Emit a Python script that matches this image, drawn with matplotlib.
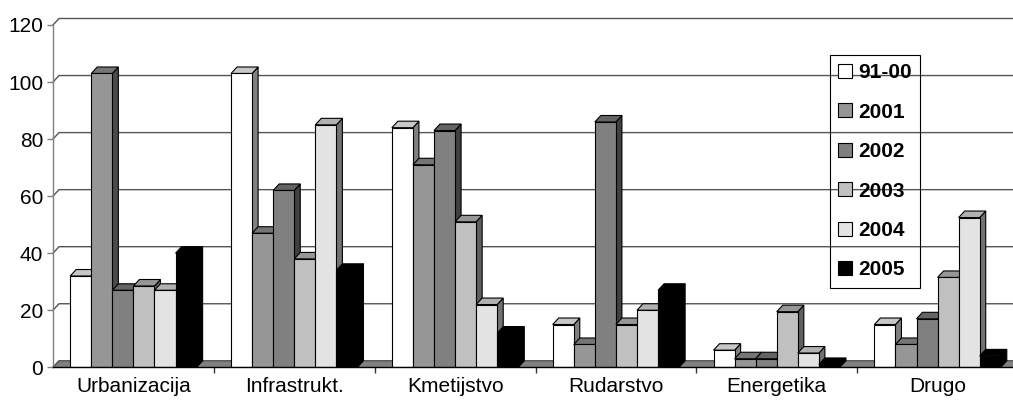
"""Excel-style 3D clustered column chart, redrawn with matplotlib patches."""

import numpy as np
import matplotlib
matplotlib.use("Agg")
import matplotlib.pyplot as plt  # noqa: E402
from matplotlib.patches import Polygon, Patch  # noqa: E402

plt.rcParams["font.family"] = ["Liberation Sans", "DejaVu Sans"]

# === DATA ===
CATEGORIES = ["Urbanizacija", "Infrastrukt.", "Kmetijstvo", "Rudarstvo", "Energetika", "Drugo"]
SERIES = ["91-00", "2001", "2002", "2003", "2004", "2005"]
V_9100 = [32, 103, 84, 15, 6, 15]
V_2001 = [103, 47, 71, 8, 3, 8]
V_2002 = [27, 62, 83, 86, 3, 17]
V_2003 = [28.5, 38, 51, 15, 19.5, 31.5]
V_2004 = [27, 85, 22, 20, 5, 52.5]
V_2005 = [40, 34, 12, 27, 1, 4]
VALUES = [V_9100, V_2001, V_2002, V_2003, V_2004, V_2005]
Y_TICKS = [0, 20, 40, 60, 80, 100, 120]

COLORS = ["#ffffff", "#969696", "#808080", "#c0c0c0", "#e3e3e3", "#000000"]

# === LAYOUT (pixels of a 1013x401 canvas) ===
W_PX, H_PX = 1013, 401
AX_LEFT, AX_RIGHT = 53, 1018
AX_BOTTOM, AX_TOP = 367.3, 25
DEPTH_X_PX, DEPTH_Y_PX = 6, 6.5
BAR_W = 0.131
YMAX = 120
FS = 15


def shade(hex_color, f):
    c = np.array(matplotlib.colors.to_rgb(hex_color)) * f
    return tuple(c)


fig = plt.figure(figsize=(W_PX / 100, H_PX / 100), dpi=100)
ax = fig.add_axes([AX_LEFT / W_PX, 1 - AX_BOTTOM / H_PX,
                   (AX_RIGHT - AX_LEFT) / W_PX, (AX_BOTTOM - AX_TOP) / H_PX])
n_cat = len(CATEGORIES)
ax.set_xlim(0, n_cat)
ax.set_ylim(0, YMAX)
for s in ax.spines.values():
    s.set_visible(False)

# depth offsets in data units
dx = DEPTH_X_PX * n_cat / (AX_RIGHT - AX_LEFT)
dy = DEPTH_Y_PX * YMAX / (AX_BOTTOM - AX_TOP)

# --- floor and back wall ---
ax.add_patch(Polygon([(0, 0), (n_cat, 0), (n_cat + dx, dy), (dx, dy)], closed=True,
                     facecolor="#808080", edgecolor="#808080", lw=0.8, zorder=1, clip_on=False))
for v in Y_TICKS:
    ax.plot([0, dx, n_cat + dx], [v, v + dy, v + dy], color="#555555", lw=1.0,
            zorder=1.5, clip_on=False)
ax.plot([0, 0], [0, YMAX], color="#808080", lw=1.0, zorder=1.6, clip_on=False)
ax.plot([0, n_cat], [0, 0], color="black", lw=1.0, zorder=50, clip_on=False)

# --- bars: front faces via ax.bar, top/side faces as polygons ---
x = np.arange(n_cat)
start = (1 - BAR_W * len(SERIES)) / 2
for si, (vals, col) in enumerate(zip(VALUES, COLORS)):
    lefts = x + start + si * BAR_W
    bars = ax.bar(lefts, vals, width=BAR_W, align="edge", color=col,
                  edgecolor="black", linewidth=0.8)
    for ci, rect in enumerate(bars):
        z = 3 + (ci * len(SERIES) + si) * 0.01
        rect.set_zorder(z + 0.005)
        x0, h = rect.get_x(), rect.get_height()
        x1 = x0 + BAR_W
        top = Polygon([(x0, h), (x1, h), (x1 + dx, h + dy), (x0 + dx, h + dy)], closed=True,
                      facecolor=shade(col, 0.78), edgecolor="black", lw=0.8, zorder=z,
                      clip_on=False)
        side = Polygon([(x1, 0), (x1 + dx, dy), (x1 + dx, h + dy), (x1, h)], closed=True,
                       facecolor=shade(col, 0.5), edgecolor="black", lw=0.8, zorder=z,
                       clip_on=False)
        ax.add_patch(side)
        ax.add_patch(top)

# --- axes ticks ---
ax.set_yticks(Y_TICKS)
ax.tick_params(axis="y", labelsize=FS, length=4, width=1, color="#808080", pad=3)
ax.set_xticks(x + 0.5)
ax.set_xticklabels(CATEGORIES)
ax.tick_params(axis="x", which="major", labelsize=FS, length=0, pad=7)
ax.set_xticks(np.arange(1, n_cat), minor=True)
ax.tick_params(axis="x", which="minor", length=4.5, width=1, color="#333333")

# --- legend (no fill, gridlines show through) ---
handles = [Patch(facecolor=c, edgecolor="black", lw=0.8) for c in COLORS]
leg = fig.legend(handles, SERIES, loc="upper left",
                 bbox_to_anchor=(830 / W_PX, 1 - 55 / H_PX), bbox_transform=fig.transFigure,
                 borderaxespad=0, fancybox=False, frameon=True,
                 prop={"size": FS, "weight": "bold"}, handlelength=0.65, handleheight=0.65,
                 handletextpad=0.3, labelspacing=0.98, borderpad=0.4)
frame = leg.get_frame()
frame.set_facecolor("none")
frame.set_edgecolor("black")
frame.set_alpha(None)
frame.set_linewidth(0.8)

fig.savefig("out.png", dpi=100)
